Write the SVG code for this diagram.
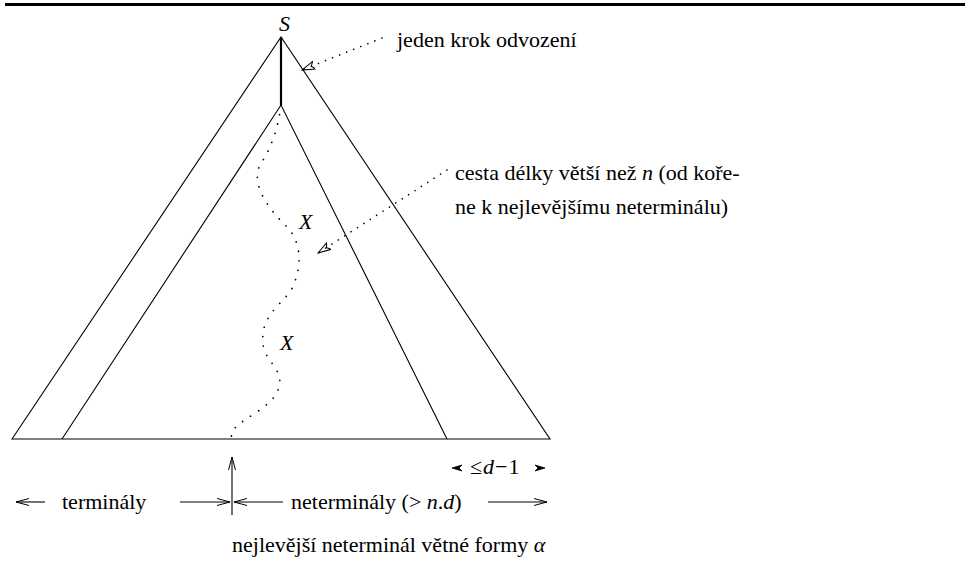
<svg xmlns="http://www.w3.org/2000/svg" width="965" height="571" viewBox="0 0 965 571">
<style>
.ln{fill:none;stroke:#000;stroke-width:1.1}
.dot{fill:none;stroke:#000;stroke-width:1.6;stroke-dasharray:0.1 7.5;stroke-linecap:round}
.pth{fill:none;stroke:#000;stroke-width:1.7;stroke-dasharray:0.1 9.5;stroke-linecap:round}
.t{font-family:"Liberation Serif","Times New Roman",serif;font-size:22px;fill:#000}
.i{font-style:italic}
</style>
<defs>
<marker id="ah" markerWidth="14" markerHeight="10" refX="13" refY="5" orient="auto" markerUnits="userSpaceOnUse">
<path d="M0,1.5 L13,5 L0,8.5" fill="none" stroke="#000" stroke-width="1"/>
</marker>
<marker id="oh" markerWidth="14" markerHeight="10" refX="13" refY="5" orient="auto" markerUnits="userSpaceOnUse">
<path d="M0,1 L13,5 L0,9 L3,5 Z" fill="none" stroke="#000" stroke-width="1"/>
</marker>
</defs>
<rect x="5" y="3" width="960" height="3" fill="#000"/>
<g id="tree">
<path class="ln" d="M12,439 L281,37 L550,439 Z"/>
<path d="M281,37 L281,105" fill="none" stroke="#000" stroke-width="2.2"/>
<path class="ln" d="M62,439 L281,105 L447,439"/>
</g>
<g id="path">
<path class="pth" d="M281,105 C278,130 270,150 260,165 C250,185 270,210 285,225 C300,238 305,265 290,292 C275,310 258,320 264,350 C270,365 285,372 278,390 C270,410 240,418 232,432 L231,439"/>
</g>
<g id="labels">
<text class="t i" x="279" y="31">S</text>
<text class="t i" x="299" y="229">X</text>
<text class="t i" x="280" y="350">X</text>
<text class="t" x="397" y="47">jeden krok odvození</text>
<text class="t" x="455" y="180">cesta délky větší než <tspan class="i">n</tspan> (od koře-</text>
<text class="t" x="455" y="214">ne k nejlevějšímu neterminálu)</text>
<text class="t" x="62" y="509">terminály</text>
<text class="t" x="291" y="509">neterminály (&gt;<tspan class="i"> n</tspan>.<tspan class="i">d</tspan>)</text>
<text class="t" x="232" y="552">nejlevější neterminál větné formy <tspan class="i">α</tspan></text>
<text class="t" x="470" y="474">≤<tspan class="i" dx="1">d</tspan><tspan dx="1">−</tspan><tspan dx="1">1</tspan></text>
</g>
<g id="connectors">
<path class="dot" d="M382,38 L302,70" marker-end="url(#oh)"/>
<path class="dot" d="M447,170 L318,253" marker-end="url(#oh)"/>
<path class="ln" d="M232,515 L232,457" marker-end="url(#ah)"/>
<path class="ln" d="M45,502 L16,502" marker-end="url(#ah)"/>
<path class="ln" d="M180,502 L230,502" marker-end="url(#ah)"/>
<path class="ln" d="M283,502 L234,502" marker-end="url(#ah)"/>
<path class="ln" d="M488,502 L547,502" marker-end="url(#ah)"/>
<path d="M462,465 L452,468 L462,471 L459,468 Z" fill="#000" stroke="#000" stroke-width="0.8"/>
<path d="M535,465 L545,468 L535,471 L538,468 Z" fill="#000" stroke="#000" stroke-width="0.8"/>
</g>
</svg>
